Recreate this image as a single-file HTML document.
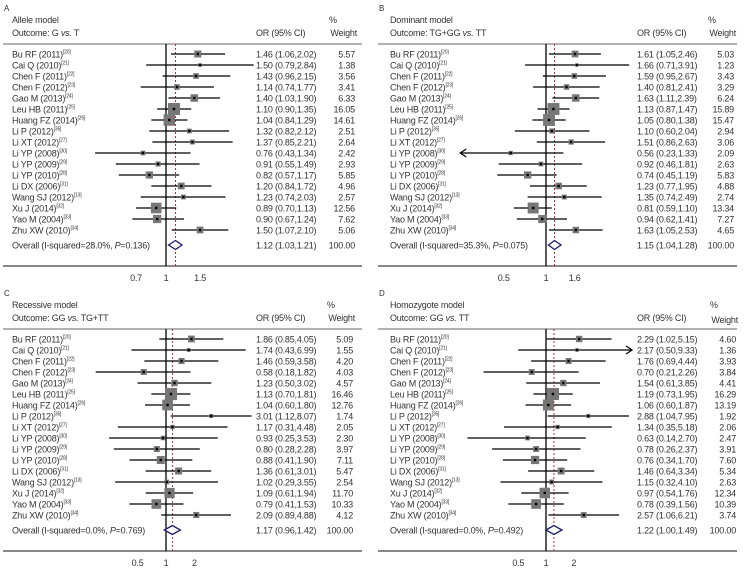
<!DOCTYPE html>
<html><head><meta charset="utf-8">
<style>
html,body{margin:0;padding:0;background:#fff;}
svg{display:block;}
text{font-family:"Liberation Sans",sans-serif;fill:#333;letter-spacing:-0.2px;}
</style></head>
<body>
<svg id="chart" width="751" height="573" viewBox="0 0 751 573" xmlns="http://www.w3.org/2000/svg"></svg>
<script>
const studies = ["Bu RF (2011)","Cai Q (2010)","Chen F (2011)","Chen F (2012)","Gao M (2013)","Leu HB (2011)","Huang FZ (2014)","Li P (2012)","Li XT (2012)","Li YP (2008)","Li YP (2009)","Li YP (2010)","Li DX (2006)","Wang SJ (2012)","Xu J (2014)","Yao M (2004)","Zhu XW (2010)"];
const refs = ["[20]","[21]","[22]","[23]","[24]","[25]","[26]","[35]","[27]","[30]","[29]","[28]","[31]","[13]","[32]","[33]","[34]"];

const orA = [1.46,1.50,1.43,1.14,1.40,1.10,1.04,1.32,1.37,0.76,0.91,0.82,1.20,1.23,0.89,0.90,1.50];
const loA = [1.06,0.79,0.96,0.74,1.03,0.90,0.84,0.82,0.85,0.43,0.55,0.57,0.84,0.74,0.70,0.67,1.07];
const hiA = [2.02,2.84,2.15,1.77,1.90,1.35,1.29,2.12,2.21,1.34,1.49,1.17,1.72,2.03,1.13,1.24,2.10];
const wA = [5.57,1.38,3.56,3.41,6.33,16.05,14.61,2.51,2.64,2.42,2.93,5.85,4.96,2.57,12.56,7.62,5.06];
const overallA = [1.12,1.03,1.21];

const orB = [1.61,1.66,1.59,1.40,1.63,1.13,1.05,1.10,1.51,0.56,0.92,0.74,1.23,1.35,0.81,0.94,1.63];
const loB = [1.05,0.71,0.95,0.81,1.11,0.87,0.80,0.60,0.86,0.23,0.46,0.45,0.77,0.74,0.59,0.62,1.05];
const hiB = [2.46,3.91,2.67,2.41,2.39,1.47,1.38,2.04,2.63,1.33,1.81,1.19,1.95,2.49,1.10,1.41,2.53];
const wB = [5.03,1.23,3.43,3.29,6.24,15.89,15.47,2.94,3.06,2.09,2.63,5.83,4.88,2.74,13.34,7.27,4.65];
const overallB = [1.15,1.04,1.28];

const orC = [1.86,1.74,1.46,0.58,1.23,1.13,1.04,3.01,1.17,0.93,0.80,0.88,1.36,1.02,1.09,0.79,2.09];
const loC = [0.85,0.43,0.59,0.18,0.50,0.70,0.60,1.12,0.31,0.25,0.28,0.41,0.61,0.29,0.61,0.41,0.89];
const hiC = [4.05,6.99,3.58,1.82,3.02,1.81,1.80,8.07,4.48,3.53,2.28,1.90,3.01,3.55,1.94,1.53,4.88];
const wC = [5.09,1.55,4.20,4.03,4.57,16.46,12.76,1.74,2.05,2.30,3.97,7.11,5.47,2.54,11.70,10.33,4.12];
const overallC = [1.17,0.96,1.42];

const orD = [2.29,2.17,1.76,0.70,1.54,1.19,1.06,2.88,1.34,0.63,0.78,0.76,1.46,1.15,0.97,0.78,2.57];
const loD = [1.02,0.50,0.69,0.21,0.61,0.73,0.60,1.04,0.35,0.14,0.26,0.34,0.64,0.32,0.54,0.39,1.06];
const hiD = [5.15,9.33,4.44,2.26,3.85,1.95,1.87,7.95,5.18,2.70,2.37,1.70,3.34,4.10,1.76,1.56,6.21];
const wD = [4.60,1.36,3.93,3.84,4.41,16.29,13.19,1.92,2.06,2.47,3.91,7.60,5.34,2.63,12.34,10.39,3.74];
const overallD = [1.22,1.00,1.49];

const ticksA = [0.7,1,1.5];
const ticksB = [0.5,1,1.6];
const ticksC = [0.5,1,2];
const ticksD = [0.5,1,2];

const NS = "http://www.w3.org/2000/svg";
const svg = document.getElementById("chart");
const FS = 9;
function mk(tag, attrs, parent){
  const e = document.createElementNS(NS, tag);
  for (const k in attrs) e.setAttribute(k, attrs[k]);
  (parent||svg).appendChild(e);
  return e;
}

const panels = [
  {id:"a",letter:"A",title:"Allele model",outcome:["Outcome: G ","vs."," T"],ox:0,oy:0,x1:166,k:84,ticks:ticksA,or:orA,lo:loA,hi:hiA,w:wA,ov:overallA,i2:"28.0%",p:"0.136",nameX:12,orX:256,wX:355,minOR:0.4,maxOR:3.2},
  {id:"b",letter:"B",title:"Dominant model",outcome:["Outcome: TG+GG ","vs."," TT"],ox:375,oy:0,x1:171,k:61,ticks:ticksB,or:orB,lo:loB,hi:hiB,w:wB,ov:overallB,i2:"35.3%",p:"0.075",nameX:15,orX:262,wX:359,minOR:0.245,maxOR:5},
  {id:"c",letter:"C",title:"Recessive model",outcome:["Outcome: GG ","vs."," TG+TT"],ox:0,oy:285,x1:166,k:41,ticks:ticksC,or:orC,lo:loC,hi:hiC,w:wC,ov:overallC,i2:"0.0%",p:"0.769",nameX:12,orX:256,wX:353,minOR:0.1,maxOR:9},
  {id:"d",letter:"D",title:"Homozygote model",outcome:["Outcome: GG ","vs."," TT"],ox:375,oy:285,x1:171,k:40,ticks:ticksD,or:orD,lo:loD,hi:hiD,w:wD,ov:overallD,i2:"0.0%",p:"0.492",nameX:15,orX:262,wX:361,minOR:0.1,maxOR:8.6}
];

panels.forEach(P=>{
  const g = mk("g",{transform:`translate(${P.ox},${P.oy})`});
  
  
  const X = v => P.x1 + P.k*Math.log(v);
  const rowY = i => 54 + i*11;
  const ovY = 245, topY = 44, axY = 266;

  let t = mk("text",{x:4,y:11,"font-size":8},g); t.textContent = P.letter;
  
  
  t = mk("text",{x:P.nameX,y:23,"font-size":FS},g); t.textContent = P.title;
  
  
  t = mk("text",{x:P.nameX,y:36,"font-size":FS},g);
  
  
  const s1 = mk("tspan",{},t); s1.textContent = P.outcome[0];
  const s2 = mk("tspan",{"font-style":"italic"},t); s2.textContent = P.outcome[1];
  const s3 = mk("tspan",{},t); s3.textContent = P.outcome[2];
  t = mk("text",{x:P.orX,y:36,"font-size":FS},g); t.textContent = "OR (95% CI)";
  
  
  t = mk("text",{x:P.wX-26,y:23,"font-size":FS},g); t.textContent = "%";
  
  
  t = mk("text",{x:P.wX+2,y:P.id==="d"?38:36,"font-size":FS,"text-anchor":"end"},g); t.textContent = "Weight";
  
  

  let l = mk("line",{x1:3,x2:362,y1:topY,y2:topY,stroke:"#999","stroke-width":1.5},g);
  
  
  l = mk("line",{x1:3,x2:362,y1:axY,y2:axY,stroke:"#888","stroke-width":2},g);
  
  
  l = mk("line",{x1:X(1),x2:X(1),y1:topY,y2:axY,stroke:"#000","stroke-width":1.3},g);
  
  
  l = mk("line",{x1:X(P.ov[0]),x2:X(P.ov[0]),y1:topY,y2:axY,stroke:"#b03030","stroke-width":1,"stroke-dasharray":"2,2"},g);
  
  

  P.ticks.forEach(v=>{
    const tt = mk("text",{x:X(v),y:281,"font-size":FS,"text-anchor":"middle"},g);
    tt.textContent = String(v);
    
    
  });

  studies.forEach((s,i)=>{
    const y = rowY(i);
    const nt = mk("text",{x:P.nameX,y:y+3.5,"font-size":FS},g);
    
    
    const a = mk("tspan",{},nt); a.textContent = s;
    const b = mk("tspan",{"font-size":5,dy:-4},nt); b.textContent = refs[i];
    const lo = Math.max(P.lo[i],P.minOR), hi = Math.min(P.hi[i],P.maxOR);
    const ci = mk("line",{x1:X(lo),x2:X(hi),y1:y,y2:y,stroke:"#000","stroke-width":1.2},g);
    
    
    if (P.lo[i] < P.minOR){
      const ar = mk("path",{d:`M${X(lo)+6},${y-4} L${X(lo)},${y} L${X(lo)+6},${y+4}`,fill:"none",stroke:"#000","stroke-width":1.2},g);
      
      
    }
    if (P.hi[i] > P.maxOR){
      const ar = mk("path",{d:`M${X(hi)-6},${y-4} L${X(hi)},${y} L${X(hi)-6},${y+4}`,fill:"none",stroke:"#000","stroke-width":1.2},g);
      
      
    }
    const sz = 3*Math.sqrt(P.w[i]);
    const sq = mk("rect",{x:X(P.or[i])-sz/2,y:y-sz/2,width:sz,height:sz,fill:"#777"},g);
    
    
    const pt = mk("rect",{x:X(P.or[i])-1.2,y:y-1.2,width:2.4,height:2.4,fill:"#000"},g);
    
    
    const ot = mk("text",{x:P.orX,y:y+3.5,"font-size":FS},g);
    ot.textContent = P.or[i].toFixed(2)+" ("+P.lo[i].toFixed(2)+","+P.hi[i].toFixed(2)+")";
    
    
    const wt = mk("text",{x:P.wX,y:y+3.5,"font-size":FS,"text-anchor":"end"},g);
    wt.textContent = P.w[i].toFixed(2);
    
    
  });

  const ot = mk("text",{x:P.nameX,y:ovY+3.5,"font-size":FS},g);
  
  
  const o1 = mk("tspan",{},ot); o1.textContent = "Overall (I-squared="+P.i2+", ";
  const o2 = mk("tspan",{"font-style":"italic"},ot); o2.textContent = "P";
  const o3 = mk("tspan",{},ot); o3.textContent = "="+P.p+")";
  const dm = mk("polygon",{points:`${X(P.ov[1])},${ovY} ${X(P.ov[0])},${ovY-4.5} ${X(P.ov[2])},${ovY} ${X(P.ov[0])},${ovY+4.5}`,fill:"#fff",stroke:"#1a1a6e","stroke-width":1.3},g);
  
  
  const ov = mk("text",{x:P.orX,y:ovY+3.5,"font-size":FS},g);
  ov.textContent = P.ov[0].toFixed(2)+" ("+P.ov[1].toFixed(2)+","+P.ov[2].toFixed(2)+")";
  
  
  const ow = mk("text",{x:P.wX,y:ovY+3.5,"font-size":FS,"text-anchor":"end"},g);
  ow.textContent = "100.00";
  
  
});
</script>
</body></html>
